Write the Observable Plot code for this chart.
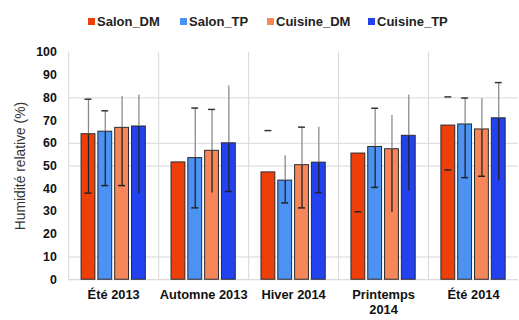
<!DOCTYPE html>
<html><head><meta charset="utf-8">
<script src="https://cdn.jsdelivr.net/npm/d3@7"></script>
<script src="https://cdn.jsdelivr.net/npm/@observablehq/plot@0.6"></script>
<style>
html,body{margin:0;padding:0;background:#fff;overflow:hidden;}
#wrap{width:519px;height:320px;overflow:hidden;position:relative;font-family:"Liberation Sans",Arial,sans-serif;}
#legend{height:40px;position:relative;font-size:13px;font-weight:bold;color:#222;}
.item{position:absolute;top:14px;display:flex;align-items:center;white-space:nowrap;}
.sw{width:7px;height:7px;margin-right:2px;}
</style></head>
<body><div id="wrap"><div id="legend"></div><div id="chart"></div></div>
<script>
const categories = ["Été 2013", "Automne 2013", "Hiver 2014", "Printemps\n2014", "Été 2014"];
const series = ["Salon_DM", "Salon_TP", "Cuisine_DM", "Cuisine_TP"];
const colors = ["#ee3e0a", "#4b92f3", "#f5875a", "#2242ef"];

// mean values
const salonDM = [64.0, 51.6, 47.2, 55.5, 67.8];
const salonTP = [65.1, 53.5, 43.6, 58.4, 68.3];
const cuisineDM = [66.8, 56.7, 50.4, 57.4, 66.1];
const cuisineTP = [67.4, 60.0, 51.5, 63.3, 71.0];

// error lines (upper / lower ends), null when not drawn
const salonDMHi = [79.4, null, null, null, null];
const salonDMLo = [38.1, null, null, null, null];
const salonTPHi = [74.3, 75.5, 54.5, 75.4, 79.9];
const salonTPLo = [41.4, 31.6, 33.8, 40.6, 44.9];
const cuisineDMHi = [80.6, 74.9, 67.1, 72.2, 79.7];
const cuisineDMLo = [41.4, 38.1, 31.6, 29.6, 45.5];
const cuisineTPHi = [81.3, 85.2, 67.1, 81.3, 86.7];
const cuisineTPLo = [37.8, 38.8, 38.3, 39.0, 43.5];

// error caps, null when no cap is drawn
const salonDMCapHi = [79.4, null, 65.6, null, 80.4];
const salonDMCapLo = [38.1, null, null, 29.9, 48.3];
const salonTPCapHi = [74.3, 75.5, null, 75.4, 79.9];
const salonTPCapLo = [41.4, 31.6, 33.8, 40.6, 44.9];
const cuisineDMCapHi = [null, 74.9, 67.1, null, null];
const cuisineDMCapLo = [41.4, null, 31.6, null, 45.5];
const cuisineTPCapHi = [null, null, null, null, 86.7];
const cuisineTPCapLo = [null, 38.8, 38.3, null, null];

const yTicks = [0, 10, 20, 30, 40, 50, 60, 70, 80, 90, 100];
const gridValues = [10, 50, 60, 80];

const values = [salonDM, salonTP, cuisineDM, cuisineTP];
const his = [salonDMHi, salonTPHi, cuisineDMHi, cuisineTPHi];
const los = [salonDMLo, salonTPLo, cuisineDMLo, cuisineTPLo];
const capHis = [salonDMCapHi, salonTPCapHi, cuisineDMCapHi, cuisineTPCapHi];
const capLos = [salonDMCapLo, salonTPCapLo, cuisineDMCapLo, cuisineTPCapLo];

const data = categories.flatMap((c, i) => series.map((s, j) => ({
  cat: c, series: s, value: values[j][i], hi: his[j][i], lo: los[j][i],
  capHi: capHis[j][i], capLo: capLos[j][i]
})));

// legend
const legend = document.getElementById("legend");
const lefts = [88, 180, 267, 368];
series.forEach((s, j) => {
  const d = document.createElement("div");
  d.className = "item"; d.style.left = lefts[j] + "px";
  d.innerHTML = `<span class="sw" style="background:${colors[j]}"></span><span>${s}</span>`;
  legend.appendChild(d);
});

const chart = Plot.plot({
  width: 525, height: 280,
  marginLeft: 68, marginRight: 0, marginTop: 12, marginBottom: 38,
  style: {fontFamily: "Liberation Sans, Arial, sans-serif", fontSize: "13px", color: "#111", background: "#fff"},
  fx: {domain: categories, padding: 0, axis: null},
  x: {domain: series, paddingInner: 0.18, paddingOuter: 0.76, axis: null},
  y: {domain: [0, 100], axis: null},
  color: {domain: series, range: colors},
  marks: [
    Plot.ruleY(gridValues, {stroke: "#d8d8d8", strokeWidth: 1}),
    Plot.ruleY([0], {stroke: "#d0d0d0"}),
    Plot.frame({anchor: "left", stroke: "#d8d8d8"}),
    Plot.barY(data, {fx: "cat", x: "series", y: "value", fill: "series", stroke: "#2a2a2a", strokeWidth: 1}),
    Plot.ruleX(data.filter(d => d.hi != null), {fx: "cat", x: "series", y1: "value", y2: "hi", stroke: "#8a8a8a", strokeWidth: 1.3}),
    Plot.ruleX(data.filter(d => d.lo != null), {fx: "cat", x: "series", y1: "lo", y2: "value", stroke: "#222", strokeWidth: 1.3}),
    Plot.tickY(data.filter(d => d.capHi != null), {fx: "cat", x: "series", y: "capHi", stroke: "#333", strokeWidth: 1.5, inset: 3.5}),
    Plot.tickY(data.filter(d => d.capLo != null), {fx: "cat", x: "series", y: "capLo", stroke: "#222", strokeWidth: 1.5, inset: 3.5}),
    Plot.axisY({ticks: yTicks, tickSize: 0, tickPadding: 12, fontSize: 12.5, fontWeight: "bold", label: null}),
    Plot.axisY({ticks: [], tickSize: 0, fontSize: 14, label: "Humidité relative (%)", labelAnchor: "center", labelOffset: 54, labelArrow: "none", fill: "#333"}),
    Plot.axisFx({anchor: "bottom", tickSize: 0, tickPadding: 9, fontSize: 13, fontWeight: "bold", label: null, lineHeight: 1.15})
  ]
});
document.getElementById("chart").appendChild(chart);
</script></body></html>
